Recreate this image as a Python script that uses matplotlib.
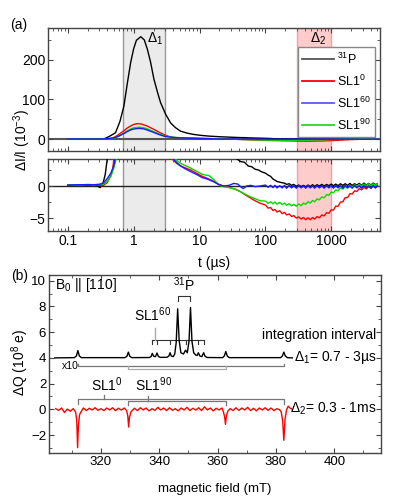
import numpy as np
import matplotlib
matplotlib.use("Agg")
import matplotlib.pyplot as plt
from matplotlib.ticker import LogLocator, MultipleLocator, NullFormatter
from matplotlib.lines import Line2D

plt.rcParams['font.family'] = ['Liberation Sans', 'DejaVu Sans']
plt.rcParams['mathtext.fontset'] = 'custom'
plt.rcParams['mathtext.rm'] = 'Liberation Sans'
plt.rcParams['mathtext.it'] = 'Liberation Sans:italic'
plt.rcParams['mathtext.bf'] = 'Liberation Sans:bold'
plt.rcParams['xtick.direction'] = 'in'
plt.rcParams['ytick.direction'] = 'in'
plt.rcParams['xtick.top'] = True
plt.rcParams['ytick.right'] = True

# ---------------- panel (a) data: transient dI/I (1e-3) vs t (us) ----------------
t_late = [100, 110, 120, 130, 140, 150, 165, 180, 195, 210,
          230, 250, 270, 295, 320, 350, 380, 410, 445, 480,
          520, 560, 610, 660, 720, 780, 850, 920, 1000, 1080,
          1170, 1270, 1380, 1500, 1630, 1770, 1920, 2080, 2260, 2450,
          2660, 2890, 3140, 3400, 3700, 4000, 4350, 4700, 5000]

t_P = [0.1, 0.15, 0.2, 0.25, 0.28, 0.31, 0.34, 0.37, 0.40, 0.45,
       0.53, 0.62, 0.71, 0.80, 0.90, 1.0, 1.1, 1.28, 1.45, 1.61,
       1.8, 2.03, 2.3, 2.56, 3.05, 3.63, 4.3, 5.15, 6.5, 8,
       10.3, 14, 20, 29.5, 37, 42, 48, 55, 62, 70, 78, 88]
v_P = [0.1, 0.15, 0.1, 0.2, 0.0, -0.25, 0.3, 1.8, 4.5, 9,
       16, 45, 83, 140, 193, 228, 249, 258, 250, 227,
       195, 151, 118, 92, 63, 41, 29, 20, 15, 12,
       9.5, 7.5, 6, 4.8, 4.2, 3.8, 3.7, 3.1, 3.0, 2.6, 2.5, 2.2]
v_P_late = [2.0, 1.7, 1.5, 1.1, 0.9, 0.7, 0.6, 0.5, 0.45, 0.25,
            0.35, 0.1, 0.25, -0.05, 0.15, -0.1, 0.1, -0.15, 0.15, -0.1,
            0.2, -0.05, 0.2, 0.0, 0.25, 0.0, 0.25, 0.05, 0.3, 0.05,
            0.3, 0.05, 0.35, 0.1, 0.35, 0.1, 0.4, 0.1, 0.35, 0.15,
            0.4, 0.1, 0.45, 0.15, 0.4, 0.15, 0.45, 0.2, 0.35]

t_0 = [0.1, 0.15, 0.2, 0.25, 0.3, 0.33, 0.36, 0.40, 0.42, 0.45,
       0.48, 0.50, 0.55, 0.62, 0.71, 0.80, 0.90, 1.0, 1.14, 1.3,
       1.6, 2.0, 2.56, 3.05, 3.85, 4.5, 5.5, 7.3, 9, 11,
       13, 16, 19, 23, 28, 35, 42, 50, 60, 70, 84]
v_0 = [0.15, 0.2, 0.15, 0.2, 0.1, 0.0, 0.2, 0.6, 1.0, 1.6,
       2.6, 4.2, 8, 14, 21, 28, 33, 37, 39, 38,
       33, 25, 15.5, 9.5, 4.2, 3.5, 3.0, 2.5, 2.0, 1.5,
       1.2, 0.8, 0.3, 0.0, -0.2, -0.5, -0.9, -1.4, -1.9, -2.3, -2.7]
v_0_late = [-2.95, -3.45, -3.35, -3.8, -3.65, -4.05, -3.85, -4.3, -4.1, -4.5,
            -4.35, -4.75, -4.6, -5.0, -4.8, -5.15, -4.9, -5.25, -4.95, -5.25,
            -4.9, -5.15, -4.75, -4.95, -4.5, -4.65, -4.15, -4.25, -3.7, -3.75,
            -3.15, -3.15, -2.5, -2.45, -1.8, -1.8, -1.2, -1.25, -0.75, -0.85,
            -0.4, -0.6, -0.2, -0.45, -0.1, -0.35, -0.05, -0.3, 0.0]

t_90 = [0.1, 0.15, 0.2, 0.25, 0.3, 0.35, 0.40, 0.45, 0.50, 0.55,
        0.62, 0.71, 0.80, 0.90, 1.0, 1.2, 1.4, 1.6, 2.0, 2.56,
        3.05, 3.6, 4.3, 5.0, 6.0, 7.3, 9, 11, 12.5, 14,
        16, 18, 20, 23, 28, 35, 42, 50, 60, 70, 84]
v_90 = [0.2, 0.15, 0.25, 0.2, 0.25, 0.3, 0.8, 1.5, 2.8, 4.5,
        9, 15, 21, 25.5, 28.5, 30, 29, 26, 19, 11.5,
        7.5, 5.5, 4.2, 3.6, 3.2, 2.8, 2.3, 1.8, 1.7, 1.6,
        1.1, 0.6, 0.1, -0.1, -0.25, -0.5, -0.9, -1.3, -1.7, -2.0, -2.3]
v_90_late = [-2.35, -2.7, -2.45, -2.77, -2.5, -2.83, -2.55, -2.9, -2.65, -3.0,
             -2.75, -3.1, -2.85, -3.15, -2.8, -3.05, -2.65, -2.85, -2.45, -2.65,
             -2.25, -2.45, -2.0, -2.15, -1.7, -1.85, -1.35, -1.45, -0.95, -1.05,
             -0.6, -0.75, -0.3, -0.5, -0.1, -0.3, 0.05, -0.15, 0.2, -0.05,
             0.25, 0.0, 0.3, 0.05, 0.35, 0.05, 0.35, 0.05, 0.35]

t_60 = [0.1, 0.15, 0.2, 0.25, 0.3, 0.35, 0.40, 0.45, 0.50, 0.53,
        0.60, 0.71, 0.80, 0.90, 1.0, 1.2, 1.4, 1.6, 2.0, 2.56,
        3.05, 4.0, 5.0, 6.0, 7.3, 9, 11, 13, 16, 20,
        23, 28, 33, 38, 42, 46, 52, 60, 70, 84]
v_60 = [0.15, 0.2, 0.2, 0.2, 0.25, 0.5, 1.2, 2.0, 3.2, 4.5,
        8, 14, 19, 23, 25.5, 27, 26, 23, 17, 10,
        6.5, 4.2, 3.2, 2.7, 2.25, 1.8, 1.3, 1.1, 0.7, 0.2,
        0.0, 0.1, 0.4, 0.3, -0.1, -0.4, 0.0, 0.1, -0.1, 0.0]
v_60_late = [0.15, -0.2, 0.1, -0.25, 0.1, -0.3, 0.05, -0.3, 0.1, -0.35,
             0.1, -0.3, 0.05, -0.35, 0.1, -0.3, 0.05, -0.35, 0.1, -0.3,
             0.05, -0.35, 0.1, -0.3, 0.05, -0.35, 0.1, -0.3, 0.05, -0.35,
             0.1, -0.3, 0.05, -0.35, 0.1, -0.3, 0.05, -0.35, 0.1, -0.3,
             0.05, -0.35, 0.1, -0.3, 0.05, -0.35, 0.1, -0.3, 0.05]

series = [
    ('$^{31}$P', 'black', t_P, v_P, v_P_late),
    ('SL1$^{0}$', '#ff0000', t_0, v_0, v_0_late),
    ('SL1$^{90}$', '#00dd00', t_90, v_90, v_90_late),
    ('SL1$^{60}$', '#1a1aff', t_60, v_60, v_60_late),
]
legend_order = ['$^{31}$P', 'SL1$^{0}$', 'SL1$^{60}$', 'SL1$^{90}$']
legend_line_colors = {'$^{31}$P': '#555555', 'SL1$^{0}$': '#ff0000',
                      'SL1$^{60}$': '#5a5aff', 'SL1$^{90}$': '#22dd22'}

delta1 = (0.7, 3.0)
delta2 = (300, 1000)

# ---------------- panel (b) data ----------------
B_black = [304.2, 310.9, 311.6, 312.1, 312.6, 313.3, 328.2, 328.9, 329.4, 329.9, 330.6,
           336.6, 337.2, 337.6, 338.1, 338.7, 339.2, 339.7, 340.3,
           342.7, 343.3, 343.7, 344.1, 344.8, 345.3, 345.8, 346.3, 346.8, 347.4,
           348.3, 349.0, 349.6, 350.2, 350.7, 351.2, 351.8,
           352.6, 353.0, 353.4, 353.9, 354.6, 355.2, 355.7, 356.5,
           361.7, 362.3, 362.8, 363.3, 364.0, 381.6, 382.2, 382.7, 383.2, 383.9, 385.6]
Q_black = [4.0, 4.02, 4.15, 4.57, 4.15, 4.02, 4.02, 4.12, 4.45, 4.12, 4.02,
           4.03, 4.1, 4.35, 4.12, 4.1, 4.38, 4.12, 4.04,
           4.05, 4.15, 4.4, 4.15, 4.1, 4.3, 5.2, 7.82, 5.4, 4.4,
           4.3, 4.6, 4.4, 5.3, 7.92, 5.3, 4.4,
           4.2, 4.2, 4.4, 4.15, 4.1, 4.4, 4.12, 4.03,
           4.02, 4.15, 4.5, 4.15, 4.02, 4.02, 4.15, 4.45, 4.15, 4.02, 4.0]

B_red = [304.5, 305.5, 306.5, 307.5, 308.5, 309.5, 310.5,
         311.3, 311.7, 312.0, 312.3, 312.7, 313.3,
         314.0, 315.0, 316.0, 317.0, 318.0, 319.0, 320.0, 321.0, 322.0, 323.0,
         324.0, 325.0, 326.0, 327.0, 328.0,
         328.8, 329.2, 329.5, 329.8, 330.3, 330.9,
         331.5, 332.5, 333.5, 334.5, 335.5, 336.5, 337.5, 338.5, 339.5, 340.5,
         341.5, 342.5, 343.5, 344.5, 345.5, 346.5, 347.5, 348.5, 349.5, 350.5,
         351.5, 352.5, 353.5, 354.5, 355.5, 356.5, 357.5, 358.5, 359.5, 360.5, 361.5,
         362.0, 362.4, 362.7, 363.0, 363.5,
         364.3, 365.3, 366.3, 367.3, 368.3, 369.3, 370.3, 371.3, 372.3, 373.3,
         374.3, 375.3, 376.3, 377.3, 378.3, 379.3, 380.3, 381.3,
         381.8, 382.3, 382.7, 383.1, 383.6, 384.2, 384.8, 385.6]
Q_red = [0.05, -0.08, 0.1, -0.25, 0.02, -0.15, 0.05,
         -0.2, -0.8, -2.98, -1.2, -0.4, -0.15,
         0.1, -0.1, 0.08, -0.05, 0.12, -0.08, 0.05, -0.1, 0.1, -0.05,
         0.12, -0.1, 0.08, -0.06, 0.1,
         -0.1, -0.5, -1.38, -0.6, -0.2, -0.05,
         0.08, -0.1, 0.12, -0.05, 0.1, -0.12, 0.05, -0.08, 0.15, -0.05,
         0.1, -0.1, 0.12, -0.08, 0.05, -0.12, 0.1, -0.05, 0.15, -0.1,
         0.08, -0.06, 0.12, -0.1, 0.2, -0.05, 0.1, -0.12, 0.08, -0.05, 0.1,
         -0.2, -0.6, -1.17, -0.5, -0.15,
         0.05, -0.1, 0.12, -0.08, 0.1, -0.05, 0.15, -0.1, 0.08, -0.12,
         0.1, -0.05, 0.12, -0.08, 0.1, -0.1, 0.05, -0.05,
         -0.2, -0.9, -2.41, -0.8, -0.05, 0.25, 0.1, 0.0]

SL1_0_lines = [312.1, 382.7]
SL1_90_lines = [329.4, 362.8]
SL1_60_lines = [337.6, 339.2, 343.7, 349.0, 353.4, 355.2]
P31_lines = [346.3, 350.7]

# ---------------- figure ----------------
fig = plt.figure(figsize=(4.15, 4.98), dpi=100)
W, H = 415.0, 498.0
ax1 = fig.add_axes([48 / W, 1 - 151 / H, 332 / W, 123 / H])
ax2 = fig.add_axes([48 / W, 1 - 231 / H, 332 / W, 72 / H])
ax3 = fig.add_axes([49 / W, 1 - 453 / H, 332 / W, 178 / H])

spine_col = '#444444'
for ax in (ax1, ax2, ax3):
    for s in ax.spines.values():
        s.set_color(spine_col)
        s.set_linewidth(1.0)
    ax.tick_params(which='major', length=3.5, width=0.8, color=spine_col, labelsize=10, pad=2)
    ax.tick_params(which='minor', length=2, width=0.6, color=spine_col)

for ax in (ax1, ax2):
    ax.set_xscale('log')
    ax.set_xlim(0.05, 5500)
    ax.axvspan(*delta1, facecolor='#ebebeb', edgecolor='#999999', lw=1.0, zorder=0)
    ax.axvspan(*delta2, facecolor='#ffcccc', edgecolor='#f4a0a0', lw=1.0, zorder=0)
    ax.xaxis.set_major_locator(LogLocator(base=10, numticks=12))
    ax.xaxis.set_minor_locator(LogLocator(base=10, subs=np.arange(2, 10), numticks=12))
    ax.xaxis.set_minor_formatter(NullFormatter())

ax1.axhline(0, color='#555555', lw=1.5, zorder=1)
ax2.axhline(0, color='#222222', lw=1.0, zorder=1)

for name, col, t, v, vl in series:
    tt = list(t) + list(t_late)
    vv = list(v) + list(vl)
    ax1.plot(tt, vv, color=col, lw=1.0, zorder=3)
    ax2.plot(tt, vv, color=col, lw=1.0, zorder=3)

ax1.set_ylim(-30, 280)
ax1.set_yticks([0, 100, 200])
ax1.yaxis.set_minor_locator(MultipleLocator(50))
ax1.tick_params(axis='x', labelbottom=False)

ax2.set_ylim(-7, 4.2)
ax2.set_yticks([-5, 0])
ax2.yaxis.set_minor_locator(MultipleLocator(2.5))
ax2.set_xticks([0.1, 1, 10, 100, 1000])
ax2.set_xticklabels(['0.1', '1', '10', '100', '1000'])
ax2.set_xlabel('t (µs)', fontsize=10, labelpad=6)

ax1.text(2.15, 253, 'Δ$_1$', ha='center', va='center', fontsize=10)
ax1.text(636, 253, 'Δ$_2$', ha='center', va='center', fontsize=10)

handles = [Line2D([], [], color=legend_line_colors[n], lw=1.3) for n in legend_order]
leg = ax1.legend(handles, legend_order, loc='upper right', bbox_to_anchor=(0.985, 0.846),
                 frameon=True, fancybox=False, framealpha=1, edgecolor='#888888',
                 fontsize=9, handlelength=2.5, handletextpad=0.25, borderpad=0.35,
                 labelspacing=0.55, borderaxespad=0)
leg.get_frame().set_linewidth(1.0)
leg.set_zorder(5)

fig.text(22 / W, 1 - 140 / H, 'ΔI/I (10$^{-3}$)', rotation=90, ha='center', va='center', fontsize=10)
fig.text(19 / W, 1 - 25 / H, '(a)', ha='center', va='center', fontsize=10)

# ---------------- panel (b) ----------------
ax3.plot(B_black, Q_black, color='black', lw=1.0, zorder=3)
ax3.plot(B_red, Q_red, color='#ff0000', lw=1.0, zorder=3)
ax3.set_xlim(302.2, 416)
ax3.set_ylim(-3.4, 10.45)
ax3.set_xticks([320, 340, 360, 380, 400])
ax3.xaxis.set_minor_locator(MultipleLocator(10))
ax3.set_yticks([-2, 0, 2, 4, 6, 8, 10])
ax3.yaxis.set_minor_locator(MultipleLocator(1))
ax3.tick_params(labelsize=9.5)
ax3.set_xlabel('magnetic field (mT)', fontsize=9.5, labelpad=11)

dark = '#333333'
mid = '#777777'
light = '#aaaaaa'
# 31P bracket
ax3.plot([P31_lines[0], P31_lines[0], P31_lines[1], P31_lines[1]], [8.4, 8.78, 8.78, 8.4], color=dark, lw=0.8)
ax3.text(sum(P31_lines) / 2, 9.0, '$^{31}$P', ha='center', va='bottom', fontsize=10)
# SL1^60 bracket
ax3.plot([SL1_60_lines[0], SL1_60_lines[-1]], [5.36, 5.36], color=dark, lw=0.8)
for x in SL1_60_lines:
    ax3.plot([x, x], [5.36, 5.05], color=dark, lw=0.8)
ax3.plot([338.5, 338.5], [5.36, 6.33], color=light, lw=1.0)
ax3.text(337.7, 6.6, 'SL1$^{60}$', ha='center', va='bottom', fontsize=10)
# brackets below black trace
ax3.plot([SL1_0_lines[0], SL1_0_lines[0], SL1_0_lines[1], SL1_0_lines[1]], [3.55, 3.35, 3.35, 3.55], color=mid, lw=0.9)
ax3.plot([SL1_90_lines[0], SL1_90_lines[0], SL1_90_lines[1], SL1_90_lines[1]], [3.35, 3.1, 3.1, 3.35], color=light, lw=0.9)
# brackets above red trace
ax3.plot([SL1_0_lines[0], SL1_0_lines[0], SL1_0_lines[1], SL1_0_lines[1]], [0.4, 0.77, 0.77, 0.4], color=mid, lw=0.9)
ax3.plot([SL1_90_lines[0], SL1_90_lines[0], SL1_90_lines[1], SL1_90_lines[1]], [0.35, 0.64, 0.64, 0.35], color=mid, lw=0.9)
ax3.plot([321.1, 321.1], [0.77, 1.15], color=mid, lw=0.9)
ax3.plot([336.3, 336.3], [0.64, 1.05], color=mid, lw=0.9)
ax3.text(322.0, 1.2, 'SL1$^{0}$', ha='center', va='bottom', fontsize=10)
ax3.text(338.0, 1.2, 'SL1$^{90}$', ha='center', va='bottom', fontsize=10)

ax3.text(304.2, 9.68, 'B$_0$ || [110]', ha='left', va='center', fontsize=10)
ax3.text(306.5, 3.35, 'x10', ha='left', va='center', fontsize=7.5)
ax3.text(414.5, 5.75, 'integration interval', ha='right', va='center', fontsize=10)
ax3.text(414.5, 4.0, 'Δ$_1$= 0.7 - 3µs', ha='right', va='center', fontsize=10)
ax3.text(414.5, 0.05, 'Δ$_2$= 0.3 - 1ms', ha='right', va='center', fontsize=10)

fig.text(20 / W, 1 - 362 / H, 'ΔQ (10$^{8}$ e)', rotation=90, ha='center', va='center', fontsize=10)
fig.text(20 / W, 1 - 276 / H, '(b)', ha='center', va='center', fontsize=10)

fig.savefig('out.png', dpi=100)
